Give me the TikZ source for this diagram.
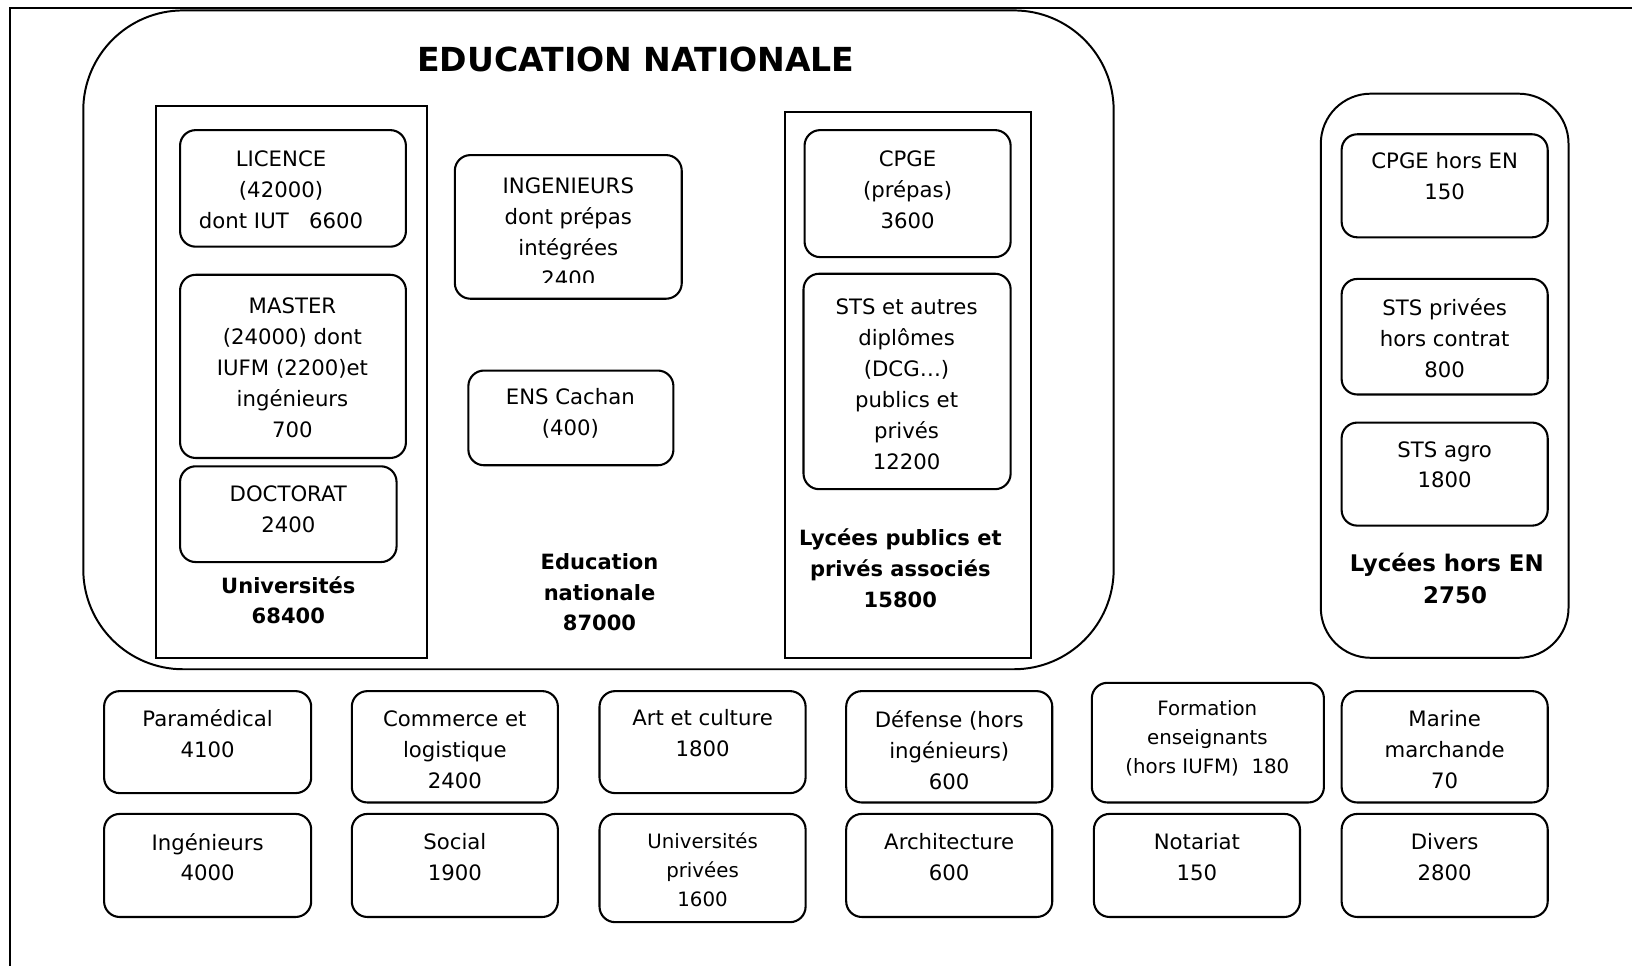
\documentclass[tikz,border=0pt]{standalone}
\usepackage{fontspec}
\setmainfont{DejaVu Sans}

\tikzset{
  frame/.style={line width=0.95pt},
  cell/.style={draw, line width=1pt, rounded corners=7.5pt},
  txt/.style={align=center, inner sep=0pt, font=\fontsize{10.2}{14.85}\selectfont},
  smalltxt/.style={align=center, inner sep=0pt, font=\fontsize{9.5}{13.9}\selectfont},
  boldtxt/.style={align=center, inner sep=0pt, font=\fontsize{10.1}{14.7}\selectfont\bfseries},
}

\begin{document}
\begin{tikzpicture}[x=0.5pt, y=-0.5pt]
\useasboundingbox (0,0) rectangle (1568,928);
% page frame
\draw[frame] (10,928) -- (10,8) -- (1568,8);

% education nationale
\draw[frame, rounded corners=48pt] (80,10) rectangle (1070,643);
\node[inner sep=0pt, font=\fontsize{15.9}{19}\selectfont\bfseries] (title) at (611,57) {EDUCATION NATIONALE};

% universites
\draw[frame] (150,102) rectangle (410,632);
\draw[cell] (173,125) rectangle (390,237);
\node[txt] (licence) at (270,182) {LICENCE\\(42000)\\dont IUT\ \ \ 6600};
\draw[cell] (173,264) rectangle (390,440);
\node[txt] (master) at (281,353.5) {MASTER\\(24000) dont\\IUFM (2200)et\\ingénieurs\\700};
\draw[cell] (173,448) rectangle (381,540);
\node[txt] (doctorat) at (277,489.5) {DOCTORAT\\2400};
\node[boldtxt] (univ) at (277,576.5) {Universités\\68400};

% ecoles
\draw[cell] (437,149) rectangle (655,287);
\begin{scope}
  \clip (437,149) rectangle (655,271);
  \node[txt] (ingen) at (546,223.5) {INGENIEURS\\dont prépas\\intégrées\\2400};
\end{scope}
\draw[cell] (450,356) rectangle (647,447);
\node[txt] (ens) at (548,397) {ENS Cachan\\(400)};
\node[boldtxt] (edunat) at (576,569) {Education\\nationale\\87000};

% lycees publics
\draw[frame] (754,108) rectangle (991,632);
\draw[cell] (773,125) rectangle (971,247);
\node[txt] (cpge) at (872,182.5) {CPGE\\(prépas)\\3600};
\draw[cell] (772,263) rectangle (971,470);
\node[txt] (sts) at (871,369) {STS et autres\\diplômes\\(DCG…)\\publics et\\privés\\12200};
\node[boldtxt] (lycees) at (865,546) {Lycées publics et\\privés associés\\15800};

% lycees hors EN
\draw[frame, rounded corners=24pt] (1269,90) rectangle (1507,632);
\draw[cell] (1289,129) rectangle (1487,228);
\node[txt] (cpgehors) at (1388,169.5) {CPGE hors EN\\150};
\draw[cell] (1289,268) rectangle (1487,379);
\node[txt] (stspriv) at (1388,324.5) {STS privées\\hors contrat\\800};
\draw[cell] (1289,406) rectangle (1487,505);
\node[txt] (stsagro) at (1388,446.5) {STS agro\\1800};
\node[boldtxt, font=\fontsize{11}{15.5}\selectfont\bfseries] (lychors) at (1390,555.5) {Lycées hors EN\\\hspace*{8pt}2750};

% autres formations
\draw[cell] (100,664) rectangle (299,762);
\node[txt] (para) at (199.5,704.5) {Paramédical\\4100};
\draw[cell] (338,664) rectangle (536,771);
\node[txt] (commerce) at (437,720.5) {Commerce et\\logistique\\2400};
\draw[cell] (576,664) rectangle (774,762);
\node[txt] (art) at (675,704.5) {Art et culture\\1800};
\draw[cell] (813,664) rectangle (1011,771);
\node[txt] (defense) at (912,720.5) {Défense (hors\\ingénieurs)\\600};
\draw[cell] (1049,656) rectangle (1272,771);
\node[smalltxt] (formation) at (1160,709.5) {Formation\\enseignants\\(hors IUFM)\ \ 180};
\draw[cell] (1289,664) rectangle (1487,771);
\node[txt] (marine) at (1388,720.5) {Marine\\marchande\\70};

\draw[cell] (100,782) rectangle (299,881);
\node[txt] (ingr) at (199.5,823.5) {Ingénieurs\\4000};
\draw[cell] (338,782) rectangle (536,881);
\node[txt] (social) at (437,823.5) {Social\\1900};
\draw[cell] (576,782) rectangle (774,886);
\node[smalltxt] (univpriv) at (675,836) {Universités\\privées\\1600};
\draw[cell] (813,782) rectangle (1011,881);
\node[txt] (archi) at (912,823.5) {Architecture\\600};
\draw[cell] (1051,782) rectangle (1249,881);
\node[txt] (notariat) at (1150,823.5) {Notariat\\150};
\draw[cell] (1289,782) rectangle (1487,881);
\node[txt] (divers) at (1388,823.5) {Divers\\2800};
\end{tikzpicture}
\end{document}
